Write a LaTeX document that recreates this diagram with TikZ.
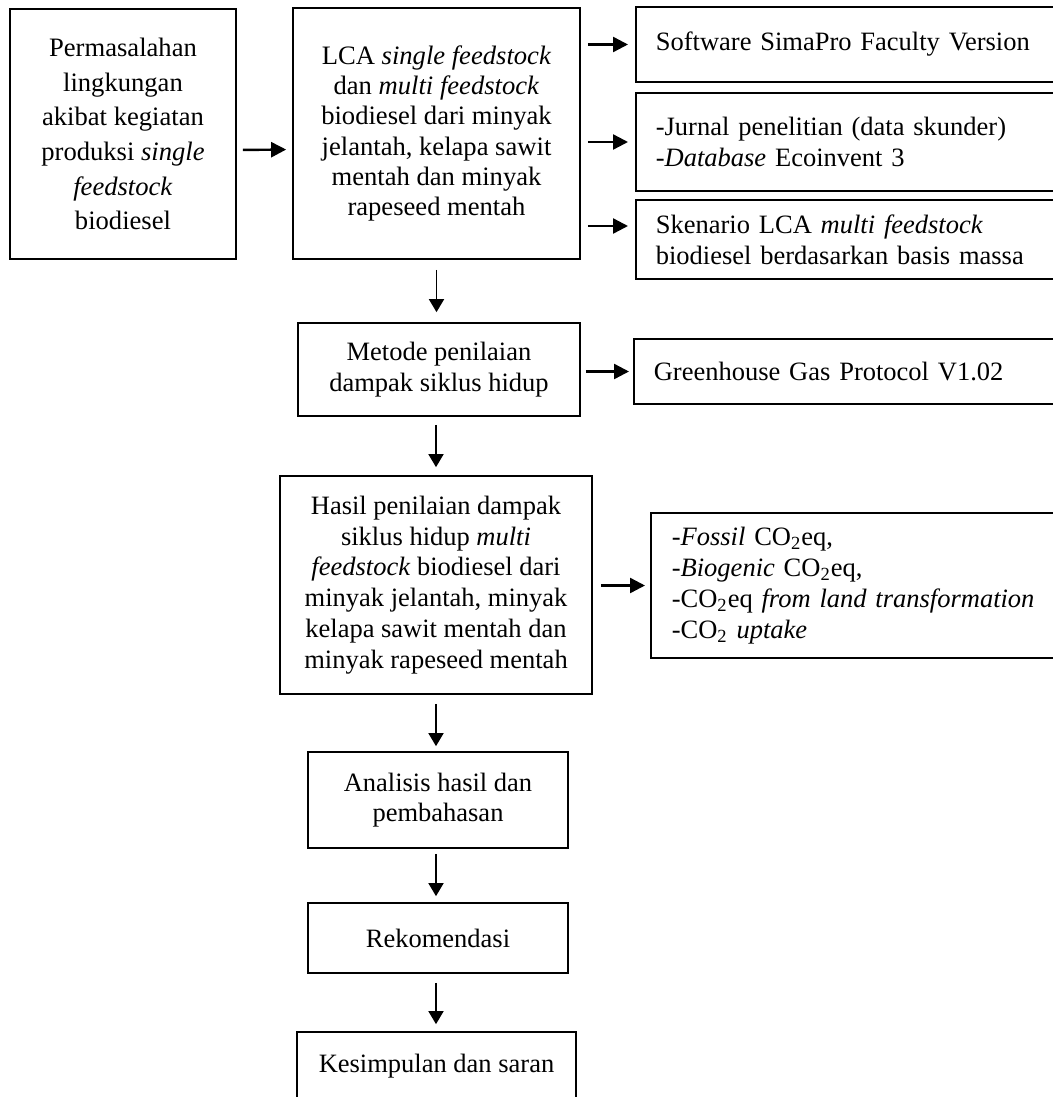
\documentclass[tikz,border=0pt]{standalone}
\usepackage{fontspec}
\setmainfont{Liberation Serif}
\usetikzlibrary{arrows.meta}
\tikzset{
	kotak/.style={draw, line width=0.85pt, align=center, inner sep=0pt},
	kanan/.style={draw, line width=0.85pt, anchor=west, align=left, inner ysep=0pt},
	panah/.style={line width=0.85pt, -{Triangle[length=6.5pt,width=7.5pt]}},
	panahkanan/.style={line width=1.2pt, -{Triangle[length=7.5pt,width=7.5pt]}},
}

\begin{document}
\begin{tikzpicture}[x=0.5pt, y=-0.5pt]
		%%%%% START %%%%%
		\useasboundingbox (0, 0) rectangle (1053, 1097);
		\clip (0, 0) rectangle (1053, 1097);
		
		\node[kotak, minimum width=113pt, minimum height=125pt, font=\fontsize{13.3}{17.35}\selectfont] (masalah) at (123, 134) {Permasalahan\\lingkungan\\akibat kegiatan\\produksi \textit{single}\\\textit{feedstock}\\biodiesel};
		\node[kotak, minimum width=143.5pt, minimum height=125.5pt, font=\fontsize{13.3}{15.15}\selectfont] (lca) at (436.5, 133.5) {LCA \textit{single feedstock}\\dan \textit{multi feedstock}\\biodiesel dari minyak\\jelantah, kelapa sawit\\mentah dan minyak\\rapeseed mentah};
		
		\node[kanan, minimum height=37.5pt, text width=197.5pt, inner xsep=10pt, font=\fontsize{13.25}{15.5}\selectfont] (software) at (635, 44.5) {Software SimaPro Faculty Version};
		\node[kanan, minimum height=49pt, text width=197.5pt, inner xsep=10pt, font=\fontsize{13.25}{15.5}\selectfont] (jurnal) at (635, 142) {-Jurnal penelitian (data skunder)\\-\textit{Database} Ecoinvent 3};
		\node[kanan, minimum height=39.5pt, text width=197.5pt, inner xsep=10pt, font=\fontsize{13.25}{15.5}\selectfont] (skenario) at (635, 239.5) {Skenario LCA \textit{multi feedstock}\\biodiesel berdasarkan basis massa};
		
		\node[kotak, minimum width=141pt, minimum height=46.5pt, font=\fontsize{13.25}{15.4}\selectfont] (metode) at (439, 369.5) {Metode penilaian\\dampak siklus hidup};
		\node[kanan, minimum height=32.5pt, text width=198.5pt, inner xsep=10pt, font=\fontsize{13.25}{15.5}\selectfont] (ghg) at (633, 371.5) {Greenhouse Gas Protocol V1.02};
		
		\node[kotak, minimum width=156pt, minimum height=109pt, font=\fontsize{13.25}{15.4}\selectfont] (hasil) at (436, 585) {Hasil penilaian dampak\\siklus hidup \textit{multi}\\\textit{feedstock} biodiesel dari\\minyak jelantah, minyak\\kelapa sawit mentah dan\\minyak rapeseed mentah};
		\node[kanan, minimum height=72.5pt, text width=189pt, inner xsep=10.5pt, font=\fontsize{13.25}{15.5}\selectfont] (emisi) at (650, 585.5) {-\textit{Fossil} CO\textsubscript{2}eq,\\-\textit{Biogenic} CO\textsubscript{2}eq,\\-CO\textsubscript{2}eq \textit{from land transformation}\\-CO\textsubscript{2} \textit{uptake}};
		
		\node[kotak, minimum width=130pt, minimum height=48pt, font=\fontsize{13.25}{15}\selectfont] (analisis) at (438, 800) {Analisis hasil dan\\pembahasan};
		\node[kotak, minimum width=130pt, minimum height=35pt, font=\fontsize{13.25}{15}\selectfont] (rekomendasi) at (438, 938) {Rekomendasi};
		\node[kotak, minimum width=139.5pt, minimum height=34pt, font=\fontsize{13.25}{15}\selectfont] (kesimpulan) at (436.5, 1066) {Kesimpulan dan saran};
		
		\coordinate (skenariomasuk) at ([yshift=6.75pt]skenario.west);
		
		\draw[panahkanan, shorten <=3pt, shorten >=3pt] ([yshift=-8pt]masalah.east) -- ([yshift=-8pt]lca.west);
		\draw[panahkanan, shorten <=3.5pt, shorten >=3.5pt] (lca.east |- software.west) -- (software.west);
		\draw[panahkanan, shorten <=3.5pt, shorten >=3.5pt] (lca.east |- jurnal.west) -- (jurnal.west);
		\draw[panahkanan, shorten <=3.5pt, shorten >=3.5pt] (lca.east |- skenariomasuk) -- (skenariomasuk);
		
		\draw[panah, shorten <=5pt, shorten >=5pt] (lca.south) -- (lca.south |- metode.north);
		\draw[panahkanan, shorten <=2.5pt, shorten >=2pt] (metode.east |- ghg.west) -- (ghg.west);
		\draw[panah, shorten <=4pt, shorten >=4pt] (hasil.north |- metode.south) -- (hasil.north);
		\draw[panahkanan, shorten <=4pt, shorten >=2.5pt] (hasil.east |- emisi.west) -- (emisi.west);
		
		\draw[panah, shorten <=4.5pt, shorten >=2.5pt] (hasil.south) -- (hasil.south |- analisis.north);
		\draw[panah, shorten <=2.5pt, shorten >=3pt] (hasil.south |- analisis.south) -- (hasil.south |- rekomendasi.north);
		\draw[panah, shorten <=4.5pt, shorten >=3.5pt] (hasil.south |- rekomendasi.south) -- (hasil.south |- kesimpulan.north);
		
		%%%%% END %%%%%
	\end{tikzpicture}
\end{document}
